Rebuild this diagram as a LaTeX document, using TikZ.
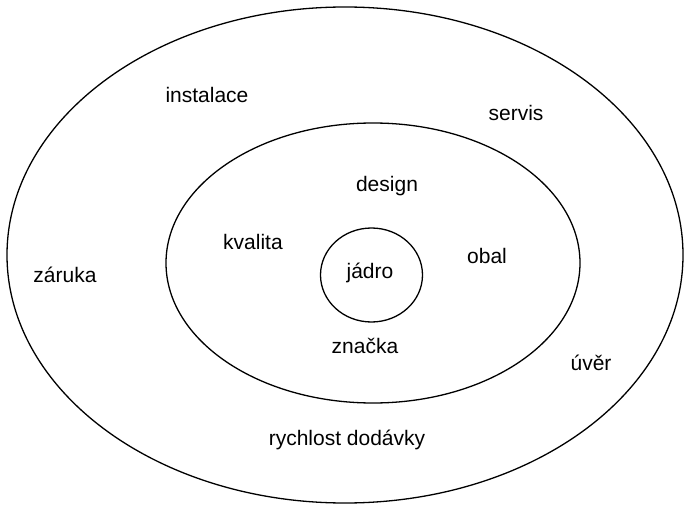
\documentclass[tikz,border=0pt]{standalone}
\usepackage{fontspec}
\setmainfont{Liberation Sans}
\begin{document}
\begin{tikzpicture}[x=1pt,y=-1pt,
  ring/.style={draw=black,line width=1.3pt},
  lbl/.style={anchor=base,inner sep=0pt,font=\fontsize{21}{25}\selectfont}]
\useasboundingbox[fill=white] (0,0) rectangle (686,508);
\draw[ring] (345,255) ellipse [x radius=338, y radius=248];
\draw[ring] (373,263) ellipse [x radius=207, y radius=140];
\draw[ring] (371.5,275) ellipse [x radius=51, y radius=47];
\node[lbl] (instalace) at (207,103) {instalace};
\node[lbl] (servis) at (516,121) {servis};
\node[lbl] (design) at (387,192) {design};
\node[lbl] (kvalita) at (253,249) {kvalita};
\node[lbl] (obal) at (487,263) {obal};
\node[lbl] (jadro) at (370,278) {jádro};
\node[lbl] (zaruka) at (65,282) {záruka};
\node[lbl] (znacka) at (365,353) {značka};
\node[lbl] (uver) at (591,370) {úvěr};
\node[lbl] (rychlost) at (347,445) {rychlost dodávky};
\end{tikzpicture}
\end{document}
